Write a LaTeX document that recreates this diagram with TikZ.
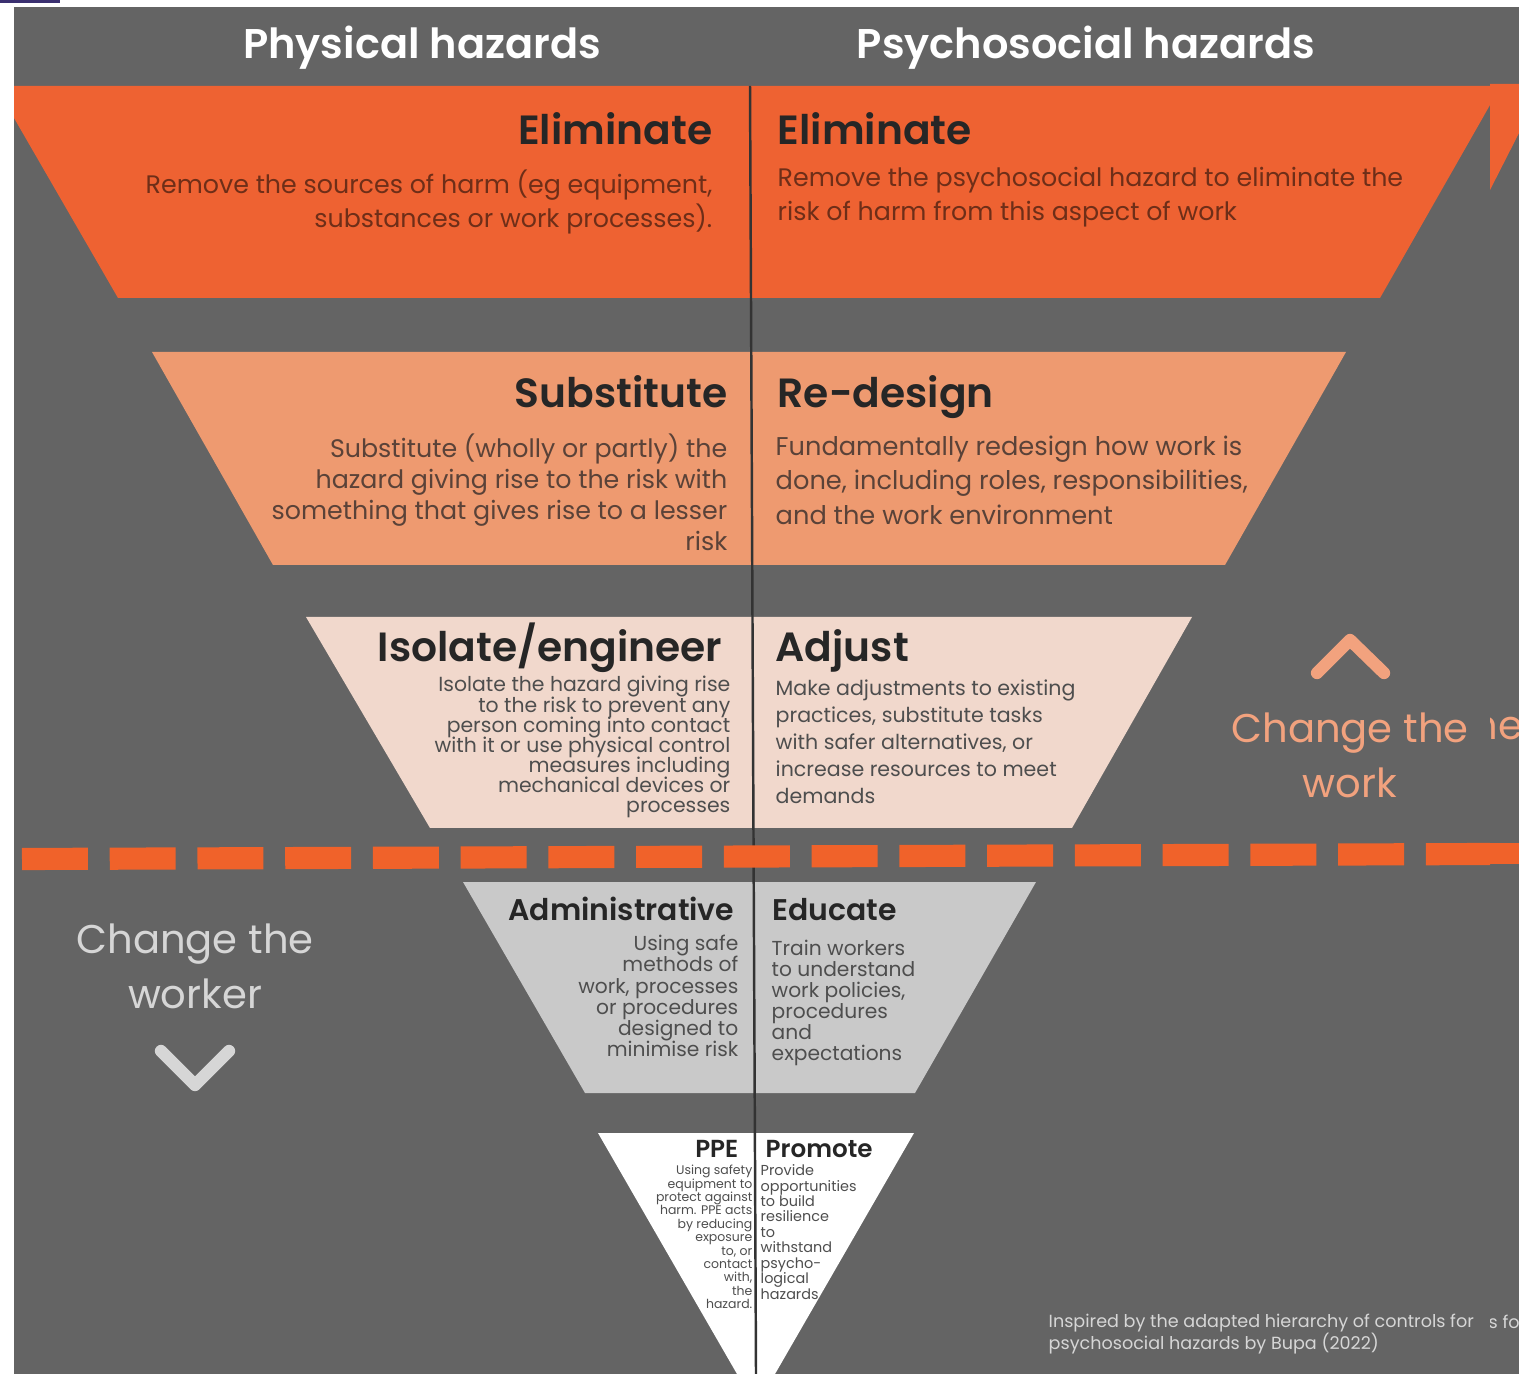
\documentclass[tikz,border=0pt]{standalone}
\usepackage{fontspec}
\setmainfont{Poppins}[BoldFont={Poppins SemiBold}]

\definecolor{bggray}{HTML}{646464}
\definecolor{elimorange}{HTML}{EE6232}
\definecolor{subsalmon}{HTML}{EE9A70}
\definecolor{isopink}{HTML}{F1D8CC}
\definecolor{admgray}{HTML}{C9C9C9}
\definecolor{dashorange}{HTML}{F0622A}
\definecolor{workpeach}{HTML}{F2A27E}
\definecolor{workergray}{HTML}{D6D6D6}
\definecolor{divline}{HTML}{333333}
\definecolor{inkdark}{HTML}{262626}
\definecolor{inkbrown}{HTML}{6E2E18}
\definecolor{inksub}{HTML}{5A4238}
\definecolor{inkgray}{HTML}{4E4E4E}
\definecolor{cornerblue}{HTML}{3B3070}

\newcommand{\tightlines}{\lineskiplimit=-10pt\relax\lineskip=0pt\relax}

\begin{document}
\begin{tikzpicture}[x=0.01cm,y=-0.01cm,
		head/.style={font=\bfseries\fontsize{11.8}{14}\selectfont,text=white,inner sep=0pt},
		ttl/.style={font=\bfseries\fontsize{11.6}{14}\selectfont,text=inkdark,inner sep=0pt},
		ttlmid/.style={font=\bfseries\fontsize{8.5}{11}\selectfont,text=inkdark,inner sep=0pt},
		ttlsmall/.style={font=\bfseries\fontsize{7}{9}\selectfont,text=inkdark,inner sep=0pt},
		bodyelim/.style={font=\fontsize{7.2}{9.7}\selectfont,text=inkbrown,inner sep=0pt},
		bodysubL/.style={font=\fontsize{7.2}{8.8}\selectfont,text=inksub,inner sep=0pt},
		bodysubR/.style={font=\fontsize{7.3}{9.8}\selectfont,text=inksub,inner sep=0pt},
		bodyiso/.style={font={\fontsize{5.8}{5.7}\selectfont\tightlines},text=inkgray,inner sep=0pt},
		bodyadj/.style={font=\fontsize{5.85}{7.7}\selectfont,text=inkgray,inner sep=0pt},
		bodyadm/.style={font={\fontsize{5.75}{6}\selectfont\tightlines},text=inkgray,inner sep=0pt},
		bodyppe/.style={font={\fontsize{3.55}{3.8}\selectfont\tightlines},text=inkgray,inner sep=0pt},
		bodyprom/.style={font={\fontsize{4.1}{4.4}\selectfont\tightlines},text=inkgray,inner sep=0pt},
		change/.style={font=\fontsize{11.4}{15.6}\selectfont,inner sep=0pt,align=center},
		chevron/.style={line width=3.5pt,line cap=round,line join=round},
		credit/.style={font=\fontsize{5}{6.5}\selectfont,text=workergray,inner sep=0pt,align=left}]
	\useasboundingbox (0,0) rectangle (1519,1374);
	\fill[white] (0,0) rectangle (1519,1374);
	\fill[cornerblue] (0,0) rectangle (60,3);
	\fill[bggray] (14,7) rectangle (1519,1374);

	% bands of the hierarchy
	\fill[elimorange] (14,86) -- (1490,86) -- (1490,105) -- (1380,298) -- (118,298) -- (14,118) -- cycle;
	\fill[elimorange] (1490,84) -- (1519,84) -- (1519,133) -- (1490,190) -- cycle;
	\fill[subsalmon] (152,352) -- (1346,352) -- (1225,565) -- (273,565) -- cycle;
	\fill[isopink] (306,617) -- (1192,617) -- (1072,828) -- (430,828) -- cycle;
	\fill[admgray] (463,882) -- (1036,882) -- (915,1093) -- (585,1093) -- cycle;
	\fill[white] (598,1133) -- (914,1133) -- (775,1374) -- (737,1374) -- cycle;

	\coordinate (divtop) at (750,86);
	\coordinate (divbot) at (756,1374);
	\draw[divline,line width=0.7pt] (divtop) -- (divbot);

	\coordinate (dashL) at (22,859);
	\coordinate (dashR) at (1490,854);
	\draw[dashorange,line width=6.3pt,dash pattern=on 18.75pt off 6.2pt] (dashL) -- (dashR);
	\fill[dashorange] (1490,843) rectangle (1519,864);

	% column heads
	\node[head,anchor=base] (phys)  at (422,59)  {Physical hazards};
	\node[head,anchor=base] (psych) at (1086,59) {Psychosocial hazards};

	% eliminate
	\node[ttl,anchor=base east] (elimL) at (713,145) {Eliminate};
	\node[ttl,anchor=base west] (elimR) at (777,145) {Eliminate};
	\node[bodyelim,anchor=east,align=right] (elimLtxt) at (713,202)
		{Remove the sources of harm (eg equipment,\\substances or work processes).};
	\node[bodyelim,anchor=west,align=left] (elimRtxt) at (777,197)
		{Remove the psychosocial hazard to eliminate the\\risk of harm from this aspect of work};

	% substitute / re-design
	\node[ttl,anchor=base east] (subL) at (728,408) {Substitute};
	\node[ttl,anchor=base west] (subR) at (777,408) {Re-design};
	\node[bodysubL,anchor=east,align=right] (subLtxt) at (728,492)
		{Substitute (wholly or partly) the\\hazard giving rise to the risk with\\something that gives rise to a lesser\\risk};
	\node[bodysubR,anchor=west,align=left] (subRtxt) at (775,480)
		{Fundamentally redesign how work is\\done, including roles, responsibilities,\\and the work environment};

	% isolate / adjust
	\node[ttl,anchor=base east] (isoL) at (723,662) {Isolate/engineer};
	\node[ttl,anchor=base west] (isoR) at (775,662) {Adjust};
	\node[bodyiso,anchor=east,align=right] (isoLtxt) at (731,747)
		{Isolate the hazard giving rise\\to the risk to prevent any\\person coming into contact\\with it or use physical control\\measures including\\mechanical devices or\\processes};
	\node[bodyadj,anchor=west,align=left] (isoRtxt) at (775,742)
		{Make adjustments to existing\\practices, substitute tasks\\with safer alternatives, or\\increase resources to meet\\demands};

	% administrative / educate
	\node[ttlmid,anchor=base east] (admL) at (735,920) {Administrative};
	\node[ttlmid,anchor=base west] (admR) at (772,920) {Educate};
	\node[bodyadm,anchor=east,align=right] (admLtxt) at (739,996)
		{Using safe\\methods of\\work, processes\\or procedures\\designed to\\minimise risk};
	\node[bodyadm,anchor=west,align=left] (admRtxt) at (771,1003)
		{Train workers\\to understand\\work policies,\\procedures\\and\\expectations};

	% ppe / promote
	\node[ttlsmall,anchor=base east] (ppeL) at (739,1157) {PPE};
	\node[ttlsmall,anchor=base west] (ppeR) at (765,1157) {Promote};
	\node[bodyppe,anchor=east,align=right] (ppeLtxt) at (753,1237)
		{Using safety\\equipment to\\protect against\\harm. PPE acts\\by reducing\\exposure\\to, or\\contact\\with,\\the\\hazard.};
	\node[bodyprom,anchor=west,align=left] (ppeRtxt) at (760,1232)
		{Provide\\opportunities\\to build\\resilience\\to\\withstand\\psycho-\\logical\\hazards};

	% change the work / change the worker
	\coordinate (upL) at (1317,673);
	\coordinate (upT) at (1350,640);
	\coordinate (upR) at (1384,673);
	\draw[chevron,workpeach] (upL) -- (upT) -- (upR);
	\node[change,text=workpeach] (work) at (1350,755) {Change the\\work};

	\coordinate (dnL) at (161,1051);
	\coordinate (dnB) at (195,1085);
	\coordinate (dnR) at (229,1051);
	\draw[chevron,workergray] (dnL) -- (dnB) -- (dnR);
	\node[change,text=workergray] (worker) at (195,966) {Change the\\worker};

	\node[credit,anchor=west] (source) at (1048,1334)
		{Inspired by the adapted hierarchy of controls for\\psychosocial hazards by Bupa (2022)};

	% strip at the right edge
	\begin{scope}
		\clip (1490,0) rectangle (1519,1374);
		\fill[bggray] (1490,600) rectangle (1519,800);
		\node[change,text=workpeach,anchor=base west] (workcut) at (1472,740) {he};
		\fill[bggray] (1490,1300) rectangle (1519,1345);
		\node[credit,anchor=base west] (sourcecut) at (1488,1328) {s for};
	\end{scope}
\end{tikzpicture}
\end{document}
